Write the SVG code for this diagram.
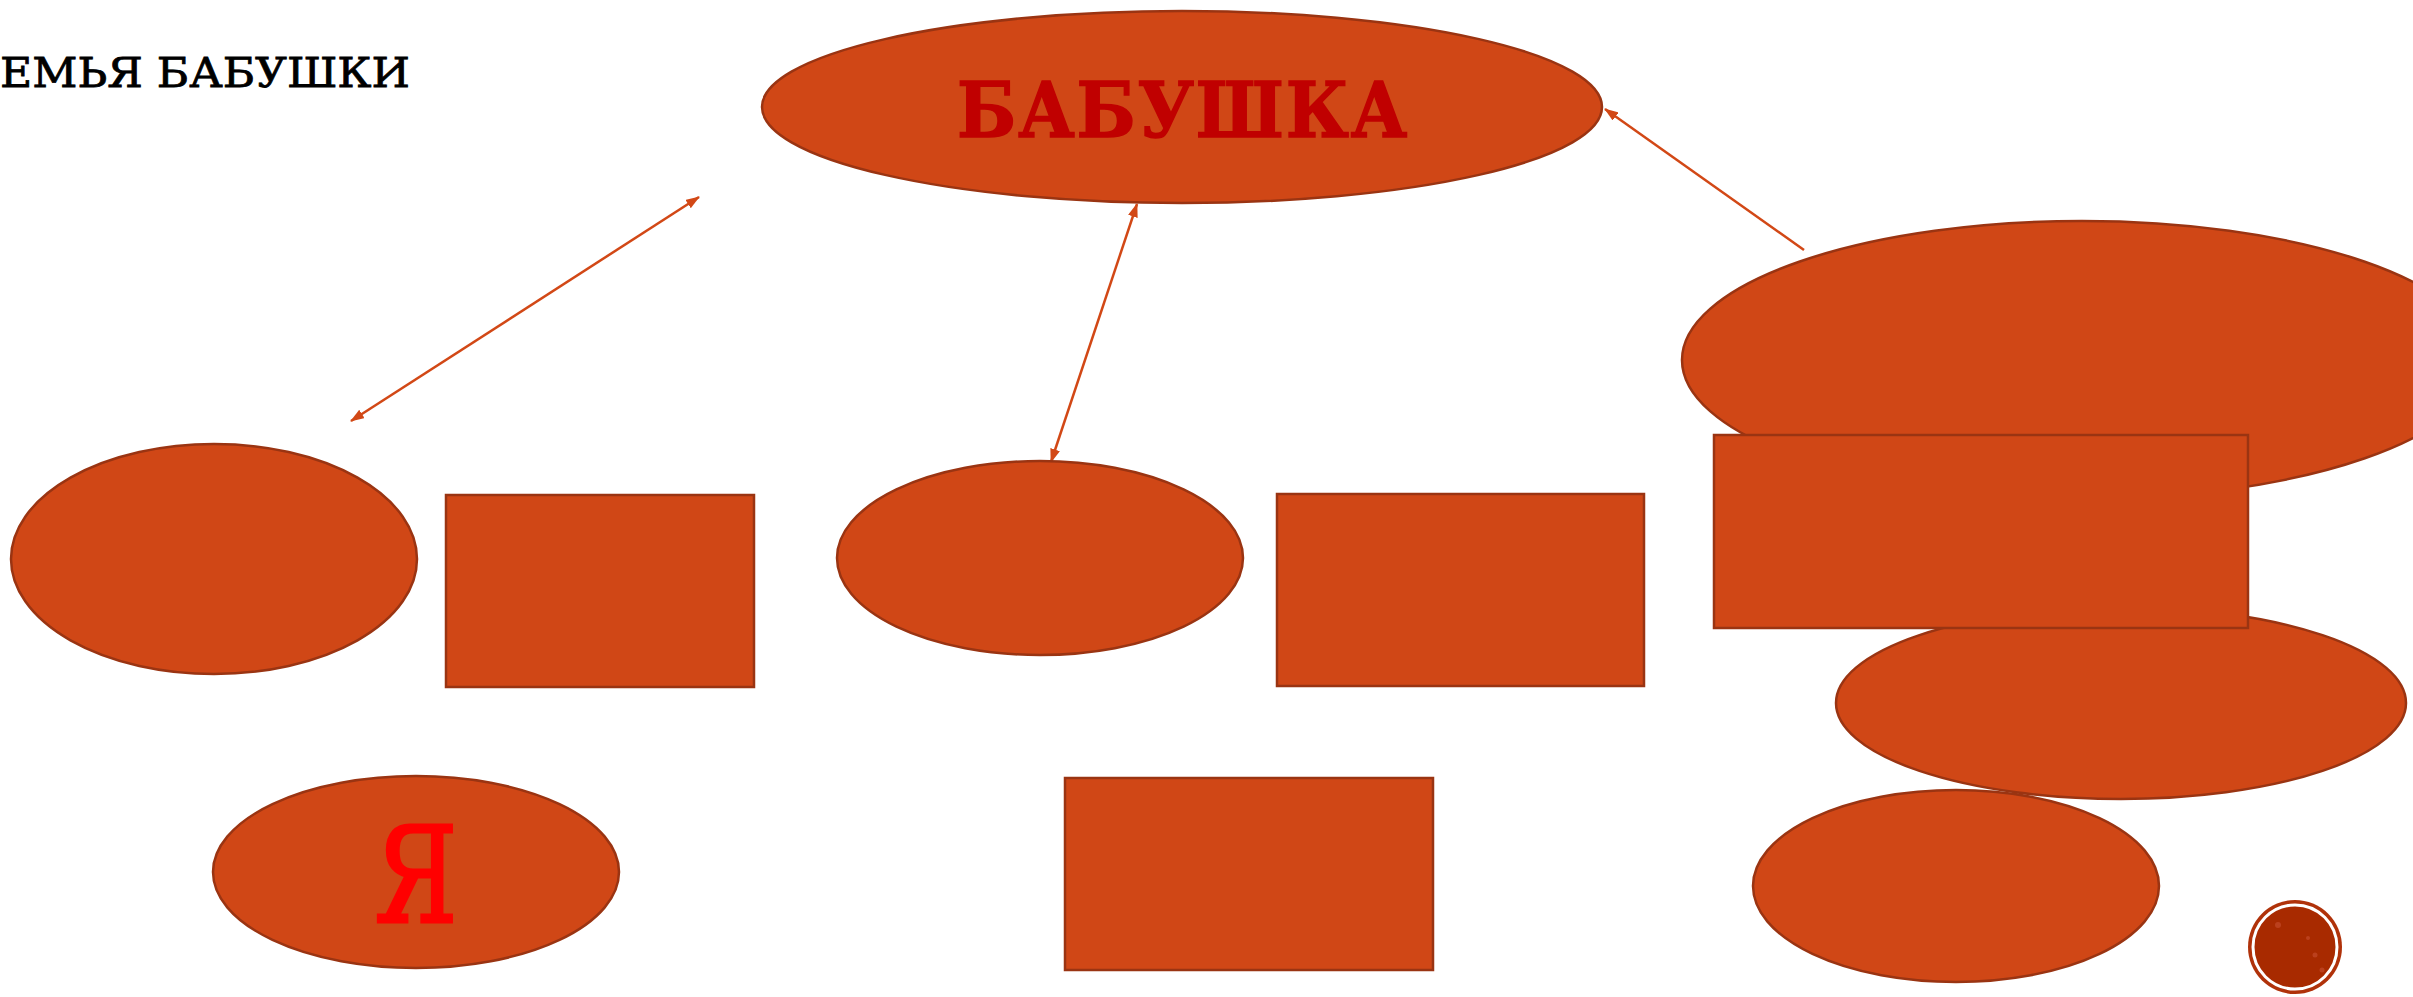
<svg xmlns="http://www.w3.org/2000/svg" width="2413" height="997" viewBox="0 0 2413 997">
  <style>
    .shape { fill: #D04716; stroke: #9A3412; stroke-width: 2.5; }
    .conn { stroke: #D24816; stroke-width: 2.5; fill: none; }
    .title { font-family: "DejaVu Serif", "Liberation Serif", serif; font-size: 41px; fill: #000000; stroke: #000000; stroke-width: 0.8; }
    .big { font-family: "DejaVu Serif", "Liberation Serif", serif; font-weight: bold; font-size: 76px; fill: #C00000; stroke: #C00000; stroke-width: 1.5; letter-spacing: 2px; }
    .me { font-family: "DejaVu Serif", "Liberation Serif", serif; font-size: 133px; fill: #FF0000; stroke: #FF0000; stroke-width: 3; }
  </style>
  <defs>
    <marker id="ah" viewBox="0 0 14 10" refX="13" refY="5" markerWidth="14" markerHeight="10" markerUnits="userSpaceOnUse" orient="auto-start-reverse">
      <path d="M0,0 L14,5 L0,10 z" fill="#D24816"/>
    </marker>
  </defs>
  <rect width="2413" height="997" fill="#FFFFFF"/>

  <text class="title" x="0" y="87" textLength="410" lengthAdjust="spacingAndGlyphs">ЕМЬЯ БАБУШКИ</text>

  <g id="connectors">
    <line class="conn" x1="351" y1="421" x2="699" y2="197" marker-start="url(#ah)" marker-end="url(#ah)"/>
    <line class="conn" x1="1137" y1="204" x2="1051" y2="462" marker-start="url(#ah)" marker-end="url(#ah)"/>
    <line class="conn" x1="1804" y1="250" x2="1605" y2="109" marker-end="url(#ah)"/>
  </g>

  <g id="node-grandma">
    <ellipse class="shape" cx="1182" cy="107" rx="420" ry="96"/>
    <text class="big" x="1183" y="137" text-anchor="middle" textLength="452" lengthAdjust="spacingAndGlyphs">БАБУШКА</text>
  </g>
  <g id="node-right-top">
    <ellipse class="shape" cx="2082" cy="360" rx="400" ry="139"/>
  </g>
  <g id="node-left">
    <ellipse class="shape" cx="214" cy="559" rx="203" ry="115"/>
  </g>
  <g id="node-rect1">
    <rect class="shape" x="446" y="495" width="308" height="192"/>
  </g>
  <g id="node-middle">
    <ellipse class="shape" cx="1040" cy="558" rx="203" ry="97"/>
  </g>
  <g id="node-rect2">
    <rect class="shape" x="1277" y="494" width="367" height="192"/>
  </g>
  <g id="node-right-lower">
    <ellipse class="shape" cx="2121" cy="703" rx="285" ry="96"/>
  </g>
  <g id="node-rect3">
    <rect class="shape" x="1714" y="435" width="534" height="193"/>
  </g>
  <g id="node-rect4">
    <rect class="shape" x="1065" y="778" width="368" height="192"/>
  </g>
  <g id="node-me">
    <ellipse class="shape" cx="416" cy="872" rx="203" ry="96"/>
    <text class="me" x="416" y="922" text-anchor="middle" textLength="83" lengthAdjust="spacingAndGlyphs">Я</text>
  </g>
  <g id="node-right-bottom">
    <ellipse class="shape" cx="1956" cy="886" rx="203" ry="96"/>
  </g>

  <g id="badge">
    <circle cx="2295" cy="947" r="47" fill="#B0320A"/>
    <circle cx="2295" cy="947" r="42" fill="#A82A00" stroke="#FFFFFF" stroke-width="3"/>
    <circle cx="2278" cy="925" r="3" fill="#C85030" opacity="0.6"/>
    <circle cx="2315" cy="955" r="2.5" fill="#C85030" opacity="0.6"/>
    <circle cx="2308" cy="938" r="2" fill="#C85030" opacity="0.6"/>
    <circle cx="2322" cy="970" r="2.5" fill="#C85030" opacity="0.6"/>
  </g>
</svg>
